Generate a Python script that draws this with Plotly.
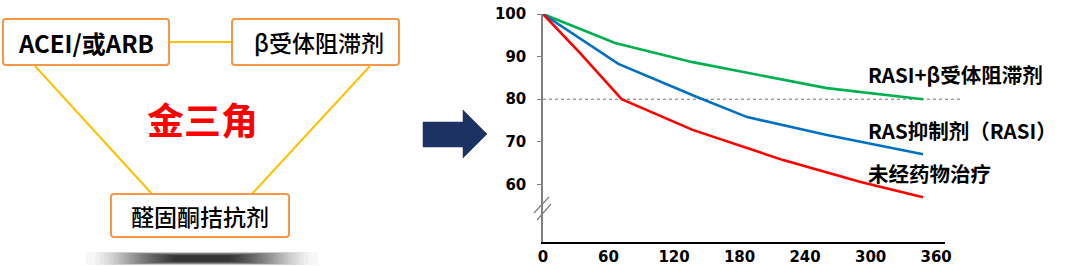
import plotly.graph_objects as go

W, H = 1080, 266

# ---- data ----
days_combo = [0, 66, 137, 217, 260, 348]
surv_combo = [100, 93.2, 88.7, 84.7, 82.6, 80.0]
days_rasi = [0, 69, 141, 187, 260, 348]
surv_rasi = [100, 88.3, 80.5, 75.8, 71.6, 67.1]
days_none = [0, 34, 72, 137, 220, 290, 348]
surv_none = [100, 90.8, 80.0, 72.8, 65.7, 60.6, 57.0]

x_ticks = [0, 60, 120, 180, 240, 300, 360]
y_ticks = [60, 70, 80, 90, 100]
ref_level = 80

series_names = ["RASI+β受体阻滞剂", "RAS抑制剂（RASI）", "未经药物治疗"]
series_colors = ["#00B050", "#0070C0", "#FF0000"]

box_labels = ["ACEI/或ARB", "β受体阻滞剂", "醛固酮拮抗剂"]
center_label = "金三角"


def X(px):
    return px / W


def Y(py):
    return 1 - py / H


fig = go.Figure()
for xs, ys, name, col in zip([days_combo, days_rasi, days_none],
                             [surv_combo, surv_rasi, surv_none],
                             series_names, series_colors):
    fig.add_trace(go.Scatter(x=xs, y=ys, mode="lines", name=name,
                             line=dict(color=col, width=2.6),
                             cliponaxis=False, showlegend=False))

shapes = []
annotations = []

# dashed reference line
shapes.append(dict(type="line", xref="paper", yref="y", x0=X(543), x1=X(963),
                   y0=ref_level, y1=ref_level, layer="below",
                   line=dict(color="#6F6F6F", width=1, dash="3px,3px")))

# axis break marks
for (x0, y0, x1, y1) in [(534, 213, 549, 197), (537, 220, 551, 204)]:
    shapes.append(dict(type="line", xref="paper", yref="paper",
                       x0=X(x0), y0=Y(y0), x1=X(x1), y1=Y(y1),
                       line=dict(color="#808080", width=1.2)))


def rrect(x0, y0, x1, y1, r=3):
    xa, xb = X(x0), X(x1)
    ya, yb = Y(y0), Y(y1)
    rx, ry = r / W, r / H
    return (f"M{xa+rx},{ya} L{xb-rx},{ya} Q{xb},{ya} {xb},{ya-ry} "
            f"L{xb},{yb+ry} Q{xb},{yb} {xb-rx},{yb} L{xa+rx},{yb} "
            f"Q{xa},{yb} {xa},{yb+ry} L{xa},{ya-ry} Q{xa},{ya} {xa+rx},{ya} Z")


# connector lines
gold = "#FFC000"
for (x0, y0, x1, y1) in [(169, 42, 232, 42), (35, 66, 152, 194), (370, 66, 252, 194)]:
    shapes.append(dict(type="line", xref="paper", yref="paper",
                       x0=X(x0), y0=Y(y0), x1=X(x1), y1=Y(y1),
                       line=dict(color=gold, width=2)))

# boxes
boxes = [(3, 19, 169, 65), (232, 19, 399, 65), (111, 194, 289, 237)]
for b in boxes:
    shapes.append(dict(type="path", xref="paper", yref="paper", path=rrect(*b),
                       fillcolor="white", line=dict(color="#F79646", width=2)))

# shadow under bottom box (soft gradient, darkest in the middle)
n = 44
for i in range(n):
    t = i / n
    half = 116 - 90 * t ** 0.6
    hh = 6.5 - 3.8 * t
    shapes.append(dict(type="rect", xref="paper", yref="paper",
                       x0=X(202 - half), x1=X(202 + half),
                       y0=Y(258.5 - hh), y1=Y(258.5 + hh),
                       fillcolor="rgba(0,0,0,0.032)", line=dict(width=0)))

# arrow
ax = [(423, 122), (463, 122), (463, 110), (487, 134), (463, 158), (463, 147), (423, 147)]
path = "M" + " L".join(f"{X(a)},{Y(b)}" for a, b in ax) + " Z"
shapes.append(dict(type="path", xref="paper", yref="paper", path=path,
                   fillcolor="#1B3262", line=dict(color="#1B3262", width=0.5)))

cjk = "Noto Sans CJK SC"


def ann(px, py, text, size, color="black", xanchor="center", weight="normal"):
    annotations.append(dict(x=X(px), y=Y(py), xref="paper", yref="paper", text=text,
                            xanchor=xanchor, yanchor="middle", showarrow=False,
                            font=dict(family=cjk, size=size, color=color, weight=weight)))


ann(86, 42, box_labels[0], 24, weight="bold")
ann(319, 42, box_labels[1], 23, weight=500)
ann(200, 216, box_labels[2], 23, weight=500)
ann(202, 119, center_label, 37, color="#FF0000", weight="bold")

for name, py in zip(series_names, [74, 130, 173]):
    ann(866, py, name, 20.5, xanchor="left", weight="bold")

fig.update_layout(
    template="none",
    width=W, height=H, margin=dict(l=0, r=0, t=0, b=0, autoexpand=False),
    paper_bgcolor="white", plot_bgcolor="rgba(0,0,0,0)",
    showlegend=False, shapes=shapes, annotations=annotations,
    xaxis=dict(domain=[X(543), X(945)], range=[0, (945 - 543) / 1.092], automargin=False,
               tickvals=x_ticks, ticktext=[f"<b>{v}</b>" for v in x_ticks],
               showgrid=False, zeroline=False, showline=True, linecolor="black", linewidth=1.5,
               ticks="", tickfont=dict(family="DejaVu Sans", size=15, color="black")),
    yaxis=dict(domain=[Y(242), Y(14)], range=[100 - (242 - 14) / 4.26, 100], automargin=False,
               tickvals=y_ticks, ticktext=[f"<b>{v}</b>" for v in y_ticks],
               showgrid=False, zeroline=False, showline=True, linecolor="#808080", linewidth=1.5,
               ticks="outside", ticklen=4, tickcolor="#808080", ticklabelstandoff=8,
               tickfont=dict(family="DejaVu Sans", size=15, color="black")),
)

fig.write_html("out.html")
